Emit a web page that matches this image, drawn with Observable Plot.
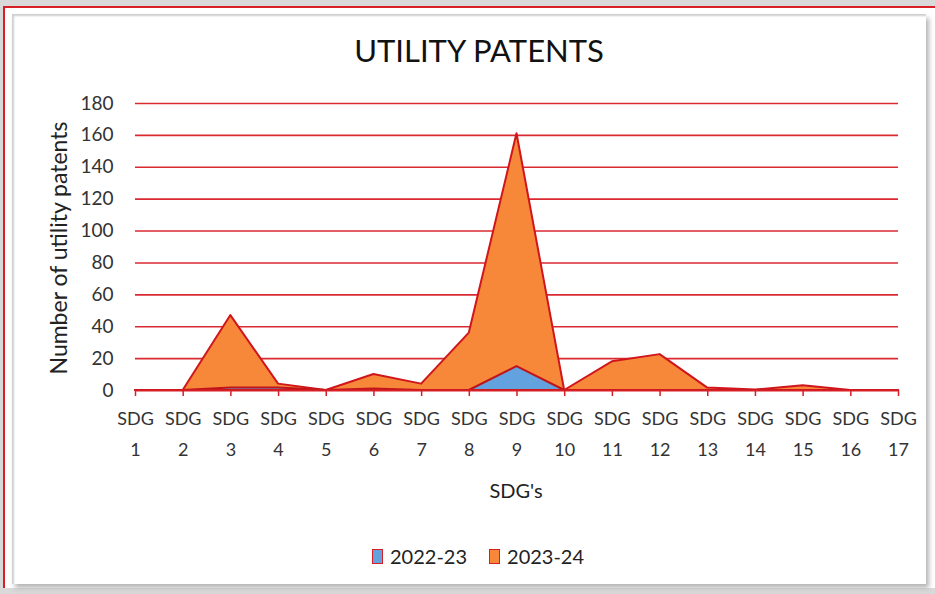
<!DOCTYPE html>
<html>
<head>
<meta charset="utf-8">
<script src="https://cdn.jsdelivr.net/npm/d3@7"></script>
<script src="https://cdn.jsdelivr.net/npm/@observablehq/plot@0.6"></script>
<style>
  html, body { margin: 0; padding: 0; }
  body { width: 935px; height: 594px; overflow: hidden; background: #d9d9d9; font-family: Lato, "Open Sans", sans-serif; }
  #wrap { position: relative; width: 935px; height: 594px; }
  #outer { position: absolute; left: 3px; top: 6px; width: 960px; height: 582px; background: #fff; border-left: 2px solid #d81f26; border-top: 2px solid #d81f26; box-sizing: border-box; }
  #inner { position: absolute; left: 12px; top: 14px; width: 914px; height: 570px; background: #fff;
           box-shadow: inset 2px 2px 2px #cfcfcf, 3px 4px 5px #b5b5b5; }
  #chart { position: absolute; left: 0; top: 0; }
  #chart svg { background: transparent !important; }
  #title { position: absolute; left: 0; width: 958px; top: 31px; text-align: center; font-size: 31px; color: #111; }
  #ytitle { position: absolute; left: 58px; top: 248px; transform: translate(-50%, -50%) rotate(-90deg); white-space: nowrap; font-size: 23px; color: #222; }
  #xtitle { position: absolute; left: 516px; top: 490px; transform: translate(-50%, -50%); white-space: nowrap; font-size: 20px; color: #222; }
  #legend { position: absolute; top: 544px; left: 372px; font-size: 20px; color: #222; display: flex; align-items: center; }
  .sw { display: inline-block; width: 9px; height: 13px; border: 1.5px solid #d81f26; margin-right: 7px; }
  .item { display: flex; align-items: center; margin-right: 22px; }
</style>
</head>
<body>
<div id="wrap">
  <div id="outer"></div>
  <div id="inner"></div>
  <div id="title">UTILITY PATENTS</div>
  <div id="chart"></div>
  <div id="ytitle">Number of utility patents</div>
  <div id="xtitle">SDG's</div>
  <div id="legend">
    <div class="item"><span class="sw" style="background:#62a3df"></span>2022-23</div>
    <div class="item"><span class="sw" style="background:#f7883a"></span>2023-24</div>
  </div>
</div>
<script>
const sdgs = [1, 2, 3, 4, 5, 6, 7, 8, 9, 10, 11, 12, 13, 14, 15, 16, 17];
const series2223 = [0, 0, 1.5, 1.5, 0, 1, 0, 0, 15, 0, 0, 0, 0, 0, 0, 0, 0];
const series2324 = [0, 0, 47, 4, 0, 10, 4, 36, 161, 0, 18, 22.5, 1.5, 0.3, 3, 0, 0];
const yTicks = [0, 20, 40, 60, 80, 100, 120, 140, 160, 180];
const seriesNames = ["2022-23", "2023-24"];

const rows2223 = sdgs.map((s, i) => ({sdg: s, value: series2223[i], series: seriesNames[0]}));
const rows2324 = sdgs.map((s, i) => ({sdg: s, value: series2324[i], series: seriesNames[1]}));

const red = "#d81f26";

const chart = Plot.plot({
  width: 935,
  height: 594,
  marginLeft: 135,
  marginRight: 37,
  marginTop: 103,
  marginBottom: 204,
  style: {background: "transparent", fontFamily: "Lato, 'Open Sans', sans-serif"},
  x: {type: "linear", domain: [1, 17]},
  y: {domain: [0, 180]},
  marks: [
    Plot.ruleY(yTicks.filter(d => d > 0), {stroke: red, strokeWidth: 1.6, strokeOpacity: 0.95}),
    Plot.areaY(rows2324, {x: "sdg", y: "value", fill: "#f7883a", stroke: "#d0161c", strokeWidth: 2, curve: "linear"}),
    Plot.areaY(rows2223, {x: "sdg", y: "value", fill: "#62a3df", stroke: "#c0141a", strokeWidth: 2, curve: "linear"}),
    Plot.ruleY([0], {stroke: red, strokeWidth: 1.8}),
    Plot.axisY({ticks: yTicks, tickSize: 0, tickPadding: 22, fontSize: 19, fill: "#333", label: null}),
    Plot.axisX({ticks: sdgs, tickSize: 6, stroke: red, strokeWidth: 1.5, tickPadding: 7, fontSize: 18, fill: "#333",
      lineHeight: 1.72, tickFormat: d => `SDG\n${d}`, label: null})
  ]
});
document.getElementById("chart").appendChild(chart);
</script>
</body>
</html>
